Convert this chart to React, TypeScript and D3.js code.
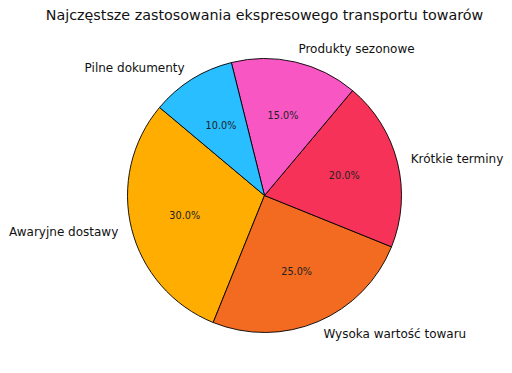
import React from "react";
import * as d3 from "d3";

const labels = ["Awaryjne dostawy", "Wysoka wartość towaru", "Krótkie terminy", "Produkty sezonowe", "Pilne dokumenty"];
const values = [30, 25, 20, 15, 10];
const colors = ["#FFAD00", "#F26B21", "#F73258", "#F857C3", "#28BEFF"];
const title = "Najczęstsze zastosowania ekspresowego transportu towarów";

const W = 512, H = 373;
const cx = 264.5, cy = 195.5, R = 137;
const startDeg = 140;

export default function App() {
  const total = d3.sum(values);
  const angle = d3.scaleLinear().domain([0, total]).range([startDeg, startDeg + 360]);
  const cum = d3.cumsum(values);
  const slices = values.map((v, i) => {
    const a0 = angle(cum[i] - v);
    const a1 = angle(cum[i]);
    return { v, i, a0, a1, mid: (a0 + a1) / 2 };
  });
  const toD3 = (deg: number) => ((90 - deg) * Math.PI) / 180;
  const arc = d3.arc<any>().innerRadius(0).outerRadius(R);
  const font = "DejaVu Sans, sans-serif";
  return (
    <svg width={W} height={H} style={{ position: "absolute", left: 0, top: 0 }}>
      <rect width={W} height={H} fill="#fff" />
      <text x={cx} y={20} textAnchor="middle" fontFamily={font} fontSize={14.3} fill="#111">{title}</text>
      <g transform={`translate(${cx},${cy})`}>
        {slices.map((s) => (
          <path
            key={s.i}
            d={arc({ startAngle: toD3(s.a1), endAngle: toD3(s.a0) }) as string}
            fill={colors[s.i]}
            stroke="#000"
            strokeWidth={0.9}
            strokeLinejoin="round"
          />
        ))}
        {slices.map((s) => {
          const rad = (s.mid * Math.PI) / 180;
          const x = 1.1 * R * Math.cos(rad);
          const y = -1.1 * R * Math.sin(rad);
          const px = 0.6 * R * Math.cos(rad);
          const py = -0.6 * R * Math.sin(rad);
          return (
            <g key={"t" + s.i}>
              <text x={x} y={y} dy="0.35em" textAnchor={x >= 0 ? "start" : "end"} fontFamily={font} fontSize={12} fill="#111">{labels[s.i]}</text>
              <text x={px} y={py} dy="0.35em" textAnchor="middle" fontFamily={font} fontSize={9.7} fill="#222">{(s.v / total * 100).toFixed(1) + "%"}</text>
            </g>
          );
        })}
      </g>
    </svg>
  );
}
